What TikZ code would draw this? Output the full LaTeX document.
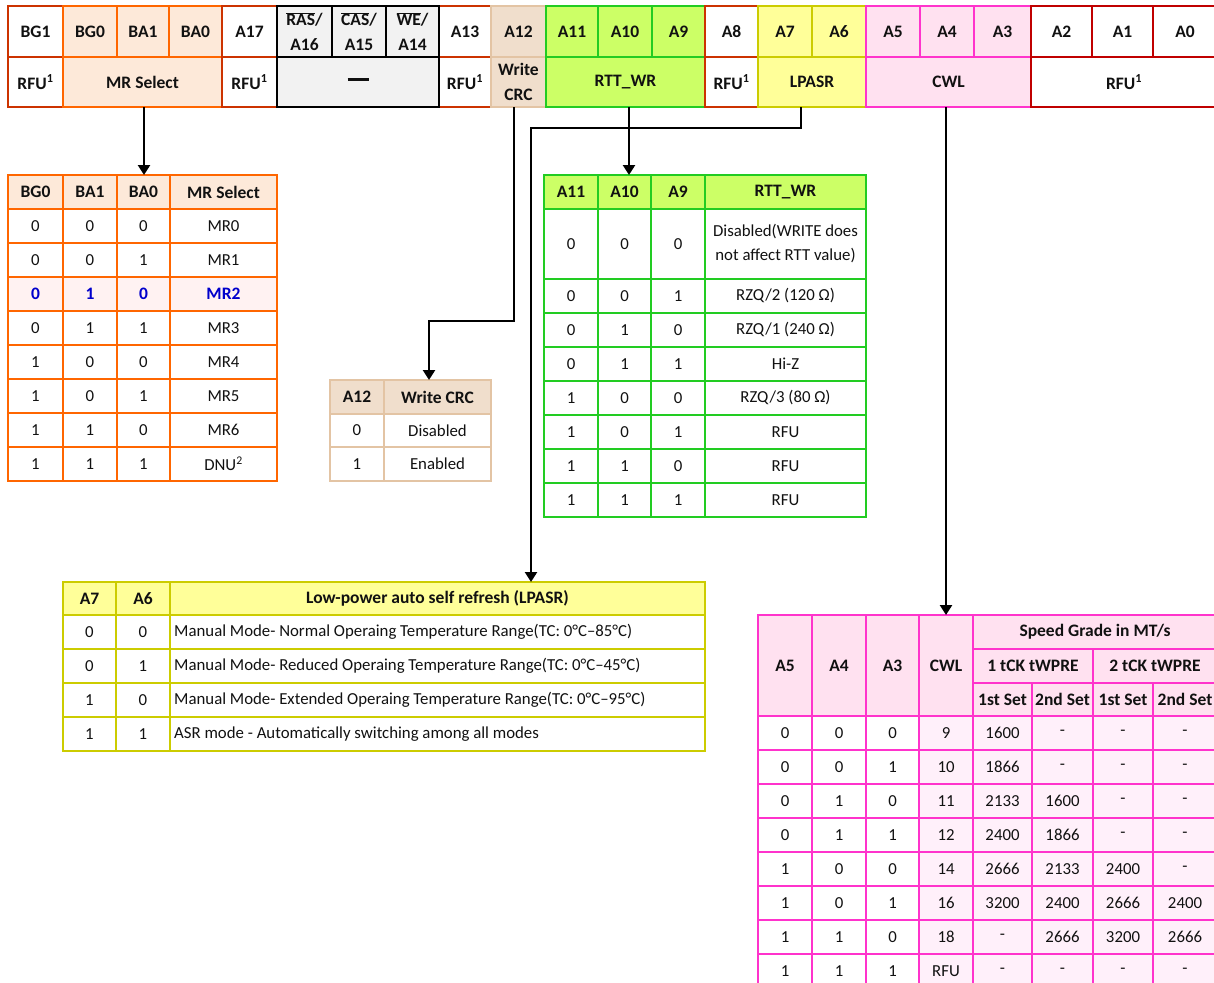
\documentclass[tikz,border=0pt]{standalone}
\usepackage{fontspec}
\setmainfont{Carlito}
\usetikzlibrary{arrows.meta}
\definecolor{cRed}{HTML}{C00000}
\definecolor{cDkO}{HTML}{CC3300}
\definecolor{cOr}{HTML}{FF6600}
\definecolor{cOrF}{HTML}{FDE9D9}
\definecolor{cMRtwo}{HTML}{FFF2F2}
\definecolor{cBlue}{HTML}{0000CC}
\definecolor{cGreyF}{HTML}{F2F2F2}
\definecolor{cTan}{HTML}{E3C4A4}
\definecolor{cTanF}{HTML}{F0DECC}
\definecolor{cGr}{HTML}{22CC22}
\definecolor{cGrF}{HTML}{CCFF66}
\definecolor{cYe}{HTML}{CCCC00}
\definecolor{cYeF}{HTML}{FFFF99}
\definecolor{cPk}{HTML}{FF33CC}
\definecolor{cPkF}{HTML}{FFE1F0}
\definecolor{cPkL}{HTML}{FFF0FA}
\definecolor{cTxt}{HTML}{111111}
\newcommand\ovl[1]{$\overline{\hbox{#1}}$}
\newcommand\cel[7]{%
  \pgfmathsetmacro\celX{((#3)+(#5))/2}%
  \pgfmathsetmacro\celY{((#4)+(#6))/2}%
  \pgfmathsetmacro\celW{(#5)-(#3)}%
  \pgfmathsetmacro\celH{(#6)-(#4)}%
  \node[cellbase,#1,minimum width=\celW pt,minimum height=\celH pt] (#2) at (\celX,\celY) {#7};}
\tikzset{
  cellbase/.style={draw, inner sep=0pt, outer sep=0pt, line width=2.4pt, align=center,
    font=\fontsize{16.8}{24}\selectfont, text=cTxt},
  hd/.style={font=\fontsize{17.5}{24.5}\selectfont\bfseries},
  bar/.style={line width=2.8pt},
  dk/.style={bar, draw=cDkO, fill=white},
  or/.style={bar, draw=cOr, fill=cOrF},
  gy/.style={bar, draw=black, fill=cGreyF},
  tn/.style={bar, draw=cTan, fill=cTanF},
  gr/.style={bar, draw=cGr, fill=cGrF},
  ye/.style={bar, draw=cYe, fill=cYeF},
  pk/.style={bar, draw=cPk, fill=cPkF},
  rd/.style={bar, draw=cRed, fill=white},
  orT/.style={draw=cOr, fill=white},
  tnT/.style={draw=cTan, fill=white},
  grT/.style={draw=cGr, fill=white},
  yeT/.style={draw=cYe, fill=white},
  pkT/.style={draw=cPk, fill=white},
  pkL/.style={draw=cPk, fill=cPkL},
  mrtwo/.style={fill=cMRtwo, text=cBlue, font=\fontsize{17.5}{24}\selectfont\bfseries},
  rowst/.style={},
  lptext/.style={anchor=west, inner sep=0pt, text=cTxt, font=\fontsize{16.8}{24}\selectfont},
  conn/.style={draw=black, line width=2.4pt, -{Triangle[width=12pt,length=10pt]}},
}
\begin{document}
\begin{tikzpicture}[x=1pt,y=-1pt]
\useasboundingbox (0,0) rectangle (1214,982);
\fill[white] (0,0) rectangle (1214,982);
\clip (0,0) rectangle (1214,982);

% ---------- register bar ----------
\cel{dk,hd}{tBG1}{8}{6}{63}{57}{BG1}
\cel{dk,hd}{rfuA}{8}{57}{63}{107}{RFU\textsuperscript{1}}
\cel{or,hd}{tBG0}{63}{6}{117}{57}{BG0}
\cel{or,hd}{tBA1}{117}{6}{169}{57}{BA1}
\cel{or,hd}{tBA0}{169}{6}{222}{57}{BA0}
\cel{or,hd}{mrsel}{63}{57}{222}{107}{MR Select}
\cel{dk,hd}{tA17}{222}{6}{277}{57}{A17}
\cel{dk,hd}{rfuB}{222}{57}{277}{107}{RFU\textsuperscript{1}}
\cel{dk,hd}{tA13}{439}{6}{491}{57}{A13}
\cel{dk,hd}{rfuC}{439}{57}{491}{107}{RFU\textsuperscript{1}}
\cel{gy,hd}{tRAS}{277}{6}{332}{57}{\ovl{RAS}/\\A16}
\cel{gy,hd}{tCAS}{332}{6}{386}{57}{\ovl{CAS}/\\A15}
\cel{gy,hd}{tWE}{386}{6}{439}{57}{\ovl{WE}/\\A14}
\cel{gy,hd}{tdash}{277}{57}{439}{107}{\rule[0.28em]{21pt}{2.4pt}}
\cel{tn,hd}{tA12}{491}{6}{546}{57}{A12}
\cel{tn,hd}{wcrc}{491}{57}{546}{107}{Write\\CRC}
\cel{gr,hd}{tA11}{546}{6}{598}{57}{A11}
\cel{gr,hd}{tA10}{598}{6}{652}{57}{A10}
\cel{gr,hd}{tA9}{652}{6}{705}{57}{A9}
\cel{gr,hd}{rtt}{546}{57}{705}{107}{RTT\_WR}
\cel{dk,hd}{tA8}{705}{6}{758}{57}{A8}
\cel{dk,hd}{rfuD}{705}{57}{758}{107}{RFU\textsuperscript{1}}
\cel{ye,hd}{tA7}{758}{6}{812}{57}{A7}
\cel{ye,hd}{tA6}{812}{6}{866}{57}{A6}
\cel{ye,hd}{lpasr}{758}{57}{866}{107}{LPASR}
\cel{pk,hd}{tA5}{866}{6}{920}{57}{A5}
\cel{pk,hd}{tA4}{920}{6}{974}{57}{A4}
\cel{pk,hd}{tA3}{974}{6}{1031}{57}{A3}
\cel{pk,hd}{cwl}{866}{57}{1031}{107}{CWL}
\cel{rd,hd}{tA2}{1031}{6}{1092}{57}{A2}
\cel{rd,hd}{tA1}{1092}{6}{1153}{57}{A1}
\cel{rd,hd}{tA0}{1153}{6}{1217}{57}{A0}
\cel{rd,hd}{rfuE}{1031}{57}{1217}{107}{RFU\textsuperscript{1}}

% ---------- MR select table ----------
\cel{orT,hd,fill=cOrF}{mrh1}{8}{175}{63}{209}{BG0}
\cel{orT,hd,fill=cOrF}{mrh2}{63}{175}{117}{209}{BA1}
\cel{orT,hd,fill=cOrF}{mrh3}{117}{175}{170}{209}{BA0}
\cel{orT,hd,fill=cOrF}{mrh4}{170}{175}{277}{209}{MR Select}
\foreach \a/\b/\c/\m [count=\i] in {0/0/0/MR0,0/0/1/MR1,0/1/0/MR2,0/1/1/MR3,1/0/0/MR4,1/0/1/MR5,1/1/0/MR6,1/1/1/{DNU\textsuperscript{2}}}{
  \pgfmathsetmacro\ya{175+34*\i}\pgfmathsetmacro\yb{\ya+34}
  \ifnum\i=3 \tikzset{rowst/.style={mrtwo}}\else\tikzset{rowst/.style={}}\fi
  \cel{orT,rowst}{mr\i a}{8}{\ya}{63}{\yb}{\a}
  \cel{orT,rowst}{mr\i b}{63}{\ya}{117}{\yb}{\b}
  \cel{orT,rowst}{mr\i c}{117}{\ya}{170}{\yb}{\c}
  \cel{orT,rowst}{mr\i d}{170}{\ya}{277}{\yb}{\m}
}

% ---------- Write CRC table ----------
\cel{tnT,hd,fill=cTanF}{crch1}{330}{380}{384}{414}{A12}
\cel{tnT,hd,fill=cTanF}{crch2}{384}{380}{491}{414}{Write CRC}
\cel{tnT}{crc1a}{330}{414}{384}{447}{0}
\cel{tnT}{crc1b}{384}{414}{491}{447}{Disabled}
\cel{tnT}{crc2a}{330}{447}{384}{481}{1}
\cel{tnT}{crc2b}{384}{447}{491}{481}{Enabled}

% ---------- RTT_WR table ----------
\cel{grT,hd,fill=cGrF}{rtth1}{544}{175}{598}{209}{A11}
\cel{grT,hd,fill=cGrF}{rtth2}{598}{175}{651}{209}{A10}
\cel{grT,hd,fill=cGrF}{rtth3}{651}{175}{705}{209}{A9}
\cel{grT,hd,fill=cGrF}{rtth4}{705}{175}{866}{209}{RTT\_WR}
\cel{grT}{rt0a}{544}{209}{598}{279}{0}
\cel{grT}{rt0b}{598}{209}{651}{279}{0}
\cel{grT}{rt0c}{651}{209}{705}{279}{0}
\cel{grT}{rt0d}{705}{209}{866}{279}{Disabled(WRITE does\\not affect RTT value)}
\foreach \a/\b/\c/\m [count=\i] in {0/0/1/{RZQ/2 (120 Ω)},0/1/0/{RZQ/1 (240 Ω)},0/1/1/Hi-Z,1/0/0/{RZQ/3 (80 Ω)},1/0/1/RFU,1/1/0/RFU,1/1/1/RFU}{
  \pgfmathsetmacro\ya{279+34*(\i-1)}\pgfmathsetmacro\yb{\ya+34}
  \cel{grT}{rt\i a}{544}{\ya}{598}{\yb}{\a}
  \cel{grT}{rt\i b}{598}{\ya}{651}{\yb}{\b}
  \cel{grT}{rt\i c}{651}{\ya}{705}{\yb}{\c}
  \cel{grT}{rt\i d}{705}{\ya}{866}{\yb}{\m}
}

% ---------- LPASR table ----------
\cel{yeT,hd,fill=cYeF}{lph1}{63}{582}{116}{615}{A7}
\cel{yeT,hd,fill=cYeF}{lph2}{116}{582}{170}{615}{A6}
\cel{yeT,hd,fill=cYeF}{lph3}{170}{582}{705}{615}{Low-power auto self refresh (LPASR)}
\foreach \a/\b/\m [count=\i] in {0/0/{Manual Mode- Normal Operaing Temperature Range(TC: 0°C–85°C)},0/1/{Manual Mode- Reduced Operaing Temperature Range(TC: 0°C–45°C)},1/0/{Manual Mode- Extended Operaing Temperature Range(TC: 0°C–95°C)},1/1/{ASR mode - Automatically switching among all modes}}{
  \pgfmathsetmacro\ya{615+34*(\i-1)}\pgfmathsetmacro\yb{\ya+34}
  \pgfmathsetmacro\ym{\ya+17}
  \cel{yeT}{lp\i a}{63}{\ya}{116}{\yb}{\a}
  \cel{yeT}{lp\i b}{116}{\ya}{170}{\yb}{\b}
  \cel{yeT}{lp\i c}{170}{\ya}{705}{\yb}{}
  \node[lptext] (lp\i t) at (174,\ym) {\m};
}

% ---------- CWL table ----------
\cel{pkT,hd,fill=cPkF}{cwh1}{758}{615}{812}{716}{A5}
\cel{pkT,hd,fill=cPkF}{cwh2}{812}{615}{866}{716}{A4}
\cel{pkT,hd,fill=cPkF}{cwh3}{866}{615}{919}{716}{A3}
\cel{pkT,hd,fill=cPkF}{cwh4}{919}{615}{973}{716}{CWL}
\cel{pkT,hd,fill=cPkF}{cwsg}{973}{615}{1217}{649}{Speed Grade in MT/s}
\cel{pkT,hd,fill=cPkF}{cwt1}{973}{649}{1093}{683}{1 tCK tWPRE}
\cel{pkT,hd,fill=cPkF}{cwt2}{1093}{649}{1217}{683}{2 tCK tWPRE}
\cel{pkT,hd,fill=cPkF}{cws1}{973}{683}{1032}{716}{1st Set}
\cel{pkT,hd,fill=cPkF}{cws2}{1032}{683}{1093}{716}{2nd Set}
\cel{pkT,hd,fill=cPkF}{cws3}{1093}{683}{1153}{716}{1st Set}
\cel{pkT,hd,fill=cPkF}{cws4}{1153}{683}{1217}{716}{2nd Set}
\foreach \a/\b/\c/\w/\p/\q/\r/\s [count=\i] in {0/0/0/9/1600/-/-/-,0/0/1/10/1866/-/-/-,0/1/0/11/2133/1600/-/-,0/1/1/12/2400/1866/-/-,1/0/0/14/2666/2133/2400/-,1/0/1/16/3200/2400/2666/2400,1/1/0/18/-/2666/3200/2666,1/1/1/RFU/-/-/-/-}{
  \pgfmathsetmacro\ya{716+34*(\i-1)}\pgfmathsetmacro\yb{\ya+34}
  \cel{pkT}{cw\i a}{758}{\ya}{812}{\yb}{\a}
  \cel{pkT}{cw\i b}{812}{\ya}{866}{\yb}{\b}
  \cel{pkT}{cw\i c}{866}{\ya}{919}{\yb}{\c}
  \cel{pkL}{cw\i d}{919}{\ya}{973}{\yb}{\w}
  \cel{pkL}{cw\i e}{973}{\ya}{1032}{\yb}{\p}
  \cel{pkL}{cw\i f}{1032}{\ya}{1093}{\yb}{\q}
  \cel{pkL}{cw\i g}{1093}{\ya}{1153}{\yb}{\r}
  \cel{pkL}{cw\i h}{1153}{\ya}{1217}{\yb}{\s}
}

% ---------- connectors ----------
\coordinate (wb) at (429,321);
\coordinate (lb) at (531,128);
\draw[conn] ([xshift=1.5pt]mrsel.south) -- ([xshift=1.5pt]mrsel.south |- mrh3.north);
\draw[conn] ([xshift=3.5pt]rtt.south) -- ([xshift=3.5pt]rtt.south |- rtth2.north);
\draw[conn] ([xshift=-4.5pt]wcrc.south) |- (wb) -- (wb |- crch2.north);
\draw[conn] ([xshift=-11pt]lpasr.south) |- (lb) -- (lb |- lph3.north);
\draw[conn] ([xshift=-2.5pt]cwl.south) -- ([xshift=-2.5pt]cwl.south |- cwh4.north);
\end{tikzpicture}
\end{document}
